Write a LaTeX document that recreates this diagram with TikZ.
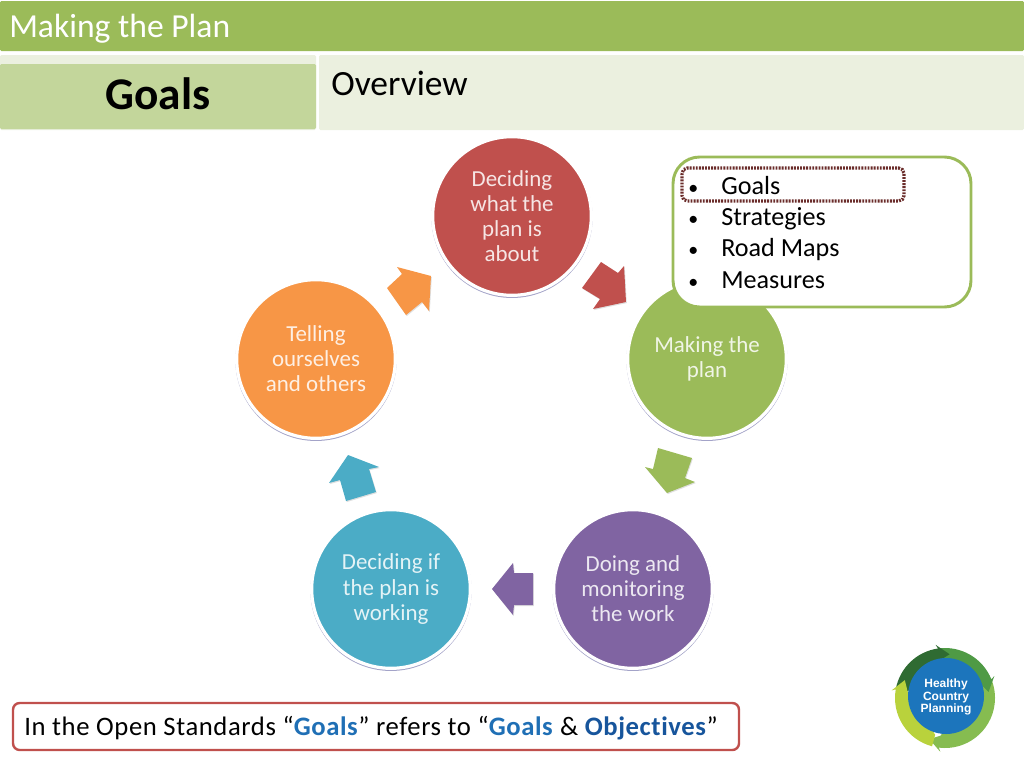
\documentclass[tikz,border=0pt]{standalone}
\usepackage{fontspec}
\setmainfont{Carlito}[Ligatures=NoCommon]
\newfontfamily\logofont{Liberation Sans}
\usetikzlibrary{shadows}
\definecolor{planred}{HTML}{C0504D}
\definecolor{plangreen}{HTML}{9BBB59}
\definecolor{planpurple}{HTML}{8064A2}
\definecolor{planblue}{HTML}{4BACC6}
\definecolor{planorange}{HTML}{F79646}
\definecolor{palegreen}{HTML}{EBF0DF}
\definecolor{midgreen}{HTML}{C3D69B}
\definecolor{logoblue}{HTML}{1C75BC}
\definecolor{notegoal}{HTML}{1F6FB5}
\definecolor{noteobj}{HTML}{17559C}
\definecolor{logodark}{HTML}{2F6B32}
\definecolor{logomid}{HTML}{4F9A45}
\definecolor{logolight}{HTML}{86BC50}
\definecolor{logoyellow}{HTML}{B9D23C}
\tikzset{
  disc/.style={circle,fill=#1,draw=white,line width=2.4pt,minimum size=119pt,inner sep=0pt,align=center,
    text=white!85!#1,font=\fontsize{17.2}{18.8}\selectfont,
    drop shadow={shadow xshift=0pt,shadow yshift=-1pt,shadow scale=1.016,opacity=0.6,fill=black!60!blue!60!white}},
  blockarrow/.style={fill=#1,draw=none,drop shadow={shadow xshift=0.6pt,shadow yshift=-0.8pt,opacity=0.25}},
  listitem/.style={anchor=base west,inner sep=0pt,font=\fontsize{19.6}{22}\selectfont},
  band/.style={fill=#1,draw=none,rounded corners=1pt}
}
% one piece of the logo ring: colour, start angle, end angle
\newcommand{\ringpiece}[3]{%
  \fill[#1] ([shift={(#2:38)}]945,698) -- ([shift={(#3-8:38)}]945,698) -- ([shift={(#3+6:44)}]945,698) -- ([shift={(#3-10:54)}]945,698)
    -- ([shift={(#3-8:50)}]945,698) arc[start angle=#3-8,end angle=#2,radius=37.5pt] -- cycle;}
\begin{document}
\begin{tikzpicture}[x=0.75pt,y=0.75pt,yscale=-1,xscale=1]
\useasboundingbox (0,0) rectangle (1024,768);

%Shape: header bands
\fill[band=plangreen] (0,1) rectangle (1024,51);
\fill[band=palegreen] (0,55) rectangle (316,130);
\fill[band=midgreen] (0,64) rectangle (316,129);
\fill[band=palegreen] (319,55) rectangle (1024,130);

% Text Node
\node[anchor=base west,inner sep=0pt,text=white,font=\fontsize{25.2}{28}\selectfont] (title) at (9,37) {Making the Plan};
\node[anchor=base,inner sep=0pt,font=\fontsize{34}{38}\bfseries\selectfont] (goalshead) at (158,109) {Goals};
\node[anchor=base west,inner sep=0pt,font=\fontsize{26.6}{30}\selectfont] (overview) at (331,95) {Overview};

%Shape: block arrows
\fill[blockarrow=planred] (601,262) -- (618,273) -- (624,266) -- (626,302) -- (593,309) -- (600,299) -- (582,288) -- cycle;
\fill[blockarrow=plangreen] (658,448) -- (692,458) -- (685,478) -- (695,482) -- (667,493) -- (645,467) -- (653,469) -- cycle;
\fill[blockarrow=planpurple] (533,573) -- (514,573) -- (513,563) -- (492,589) -- (513,615) -- (514,605) -- (533,605) -- cycle;
\fill[blockarrow=planblue] (348,455) -- (379,467) -- (369,469) -- (376,492) -- (346,501) -- (340,480) -- (329,483) -- cycle;
\fill[blockarrow=planorange] (387,288) -- (402,274) -- (397,267) -- (431,276) -- (429,311) -- (422,302) -- (406,315) -- cycle;

%Shape: circles
\node[disc=planred] (deciding) at (512,216) {Deciding\\what the\\plan is\\about};
\node[disc=plangreen] (making) at (707,359) {Making the\\plan};
\node[disc=planpurple] (doing) at (633,589) {Doing and\\monitoring\\the work};
\node[disc=planblue] (working) at (391,589) {Deciding if\\the plan is\\working};
\node[disc=planorange] (telling) at (316,359) {Telling\\ourselves\\and others};

%Shape: callout with list
\draw[plangreen,line width=2.2pt,fill=white,rounded corners=20pt] (673,157) rectangle (971,307);
\draw[draw=planred!55!black,line width=2.4pt,dash pattern=on 1.4pt off 0.9pt,rounded corners=4pt] (682,168) rectangle (904,201);
\foreach \ypos/\itemname/\itemtext in {194/goals/Goals,225/strategies/Strategies,256/roadmaps/Road Maps,288/measures/Measures}{
  \node[listitem,font=\fontsize{15}{20}\selectfont] (bullet\itemname) at (688,\ypos) {•};
  \node[listitem] (\itemname) at (721,\ypos) {\itemtext};
}

%Shape: note box
\draw[planred,line width=1.8pt,fill=white,rounded corners=5pt] (13,703) rectangle (739,750);
% Text Node
\node[anchor=base west,inner sep=0pt,font=\fontsize{20}{22}\addfontfeature{LetterSpace=2.2}\selectfont] (note) at (24,735)
  {In the Open Standards “\textcolor{notegoal}{\textbf{Goals}}” refers to “\textcolor{notegoal}{\textbf{Goals}} \& \textcolor{noteobj}{\textbf{Objectives}}”};

%Shape: logo
\ringpiece{logolight}{338}{465}
\ringpiece{logomid}{262}{346}
\ringpiece{logodark}{190}{270}
\ringpiece{logoyellow}{105}{198}
\fill[logoblue] (946,696) circle (38);
\node[align=center,inner sep=0pt,text=white,font=\logofont\bfseries\fontsize{9}{9.4}\selectfont] (logotext) at (946,697) {Healthy\\Country\\Planning};
\end{tikzpicture}
\end{document}
